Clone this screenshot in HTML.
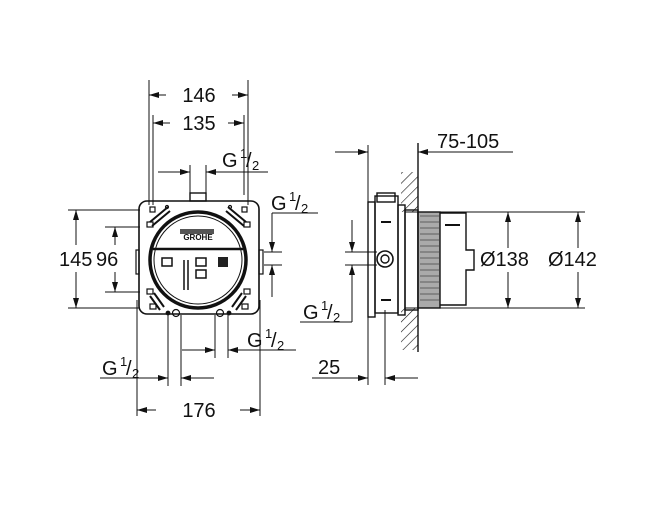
<!DOCTYPE html>
<html><head><meta charset="utf-8"><style>
html,body{margin:0;padding:0;background:#fff}
svg{display:block}
text{font-family:"Liberation Sans",sans-serif;fill:#111}
</style></head><body>
<svg width="666" height="515" viewBox="0 0 666 515" xmlns="http://www.w3.org/2000/svg">
<defs>
<marker id="a" viewBox="0 0 10 6" refX="10" refY="3" markerWidth="11" markerHeight="6" markerUnits="userSpaceOnUse" orient="auto"><path d="M0,0L10,3L0,6z" fill="#111"/></marker>
<pattern id="h" width="7" height="7" patternUnits="userSpaceOnUse" patternTransform="rotate(45)"><line x1="0" y1="0" x2="0" y2="7" stroke="#111" stroke-width="1.2"/></pattern>
</defs>
<g stroke="#111" stroke-width="1" fill="none">
<line x1="149" y1="80" x2="149" y2="205"/>
<line x1="153" y1="115" x2="153" y2="205"/>
<line x1="244" y1="115" x2="244" y2="195"/>
<line x1="248" y1="80" x2="248" y2="205"/>
<line x1="166" y1="95" x2="149" y2="95" marker-end="url(#a)"/>
<line x1="232" y1="95" x2="248" y2="95" marker-end="url(#a)"/>
<line x1="170" y1="123" x2="153" y2="123" marker-end="url(#a)"/>
<line x1="228" y1="123" x2="244" y2="123" marker-end="url(#a)"/>
<line x1="190" y1="165" x2="190" y2="195"/>
<line x1="206" y1="165" x2="206" y2="195"/>
<line x1="158" y1="172" x2="190" y2="172" marker-end="url(#a)"/>
<line x1="268" y1="172" x2="206" y2="172" marker-end="url(#a)"/>
<rect x="139" y="201" width="120" height="113" rx="8" stroke-width="1.6"/>
<rect x="190" y="193" width="16" height="8" stroke-width="1.4"/>
<rect x="136" y="250" width="3" height="24" stroke-width="1.2"/>
<rect x="259" y="250" width="4" height="24" stroke-width="1.2"/>
<circle cx="198" cy="260" r="48" stroke-width="3.5"/>
<circle cx="198" cy="260" r="44" stroke-width="1"/>
<path d="M153 249 L243 249" stroke-width="2.5"/>
<g stroke-width="2">
<path d="M150 222 L168 207 M152 226 L170 211"/>
<path d="M246 222 L228 207 M244 226 L226 211"/>
<path d="M150 296 L160 310 M154 293 L164 307"/>
<path d="M246 296 L236 310 M242 293 L232 307"/>
</g>
<g stroke-width="1.2">
<rect x="150" y="207" width="5" height="5"/><rect x="242" y="207" width="5" height="5"/>
<rect x="147" y="222" width="6" height="5"/><rect x="244" y="222" width="6" height="5"/>
<rect x="147" y="289" width="6" height="5"/><rect x="244" y="289" width="6" height="5"/>
<rect x="150" y="304" width="6" height="5"/><rect x="242" y="304" width="6" height="5"/>
<circle cx="176" cy="313" r="3.5"/><circle cx="220" cy="313" r="3.5"/>
<circle cx="168" cy="313" r="1.8" fill="#111"/><circle cx="229" cy="313" r="1.8" fill="#111"/>
<circle cx="167" cy="207" r="1.5"/><circle cx="230" cy="207" r="1.5"/>
</g>
<rect x="180" y="229" width="34" height="5" fill="#555" stroke="none"/>
<rect x="218" y="257" width="10" height="10" fill="#222" stroke="none"/>
<path d="M162 258h10v8h-10z M196 258h10v8h-10z M196 270h10v8h-10z M184 260v30 M188 260v30" stroke-width="1.5"/>
<line x1="68" y1="210" x2="140" y2="210"/>
<line x1="68" y1="308" x2="140" y2="308"/>
<line x1="105" y1="227" x2="140" y2="227"/>
<line x1="105" y1="292" x2="140" y2="292"/>
<line x1="76" y1="245" x2="76" y2="210" marker-end="url(#a)"/>
<line x1="76" y1="272" x2="76" y2="308" marker-end="url(#a)"/>
<line x1="115" y1="245" x2="115" y2="227" marker-end="url(#a)"/>
<line x1="115" y1="272" x2="115" y2="292" marker-end="url(#a)"/>
<line x1="264" y1="252" x2="282" y2="252"/>
<line x1="264" y1="265" x2="282" y2="265"/>
<line x1="272" y1="213" x2="318" y2="213"/>
<line x1="272" y1="213" x2="272" y2="252" marker-end="url(#a)"/>
<line x1="272" y1="297" x2="272" y2="265" marker-end="url(#a)"/>
<line x1="137" y1="300" x2="137" y2="416"/>
<line x1="260" y1="300" x2="260" y2="416"/>
<line x1="156" y1="410" x2="137" y2="410" marker-end="url(#a)"/>
<line x1="240" y1="410" x2="260" y2="410" marker-end="url(#a)"/>
<line x1="168" y1="315" x2="168" y2="386"/>
<line x1="181" y1="315" x2="181" y2="386"/>
<line x1="215" y1="315" x2="215" y2="358"/>
<line x1="228" y1="315" x2="228" y2="358"/>
<line x1="100" y1="378" x2="168" y2="378" marker-end="url(#a)"/>
<line x1="214" y1="378" x2="181" y2="378" marker-end="url(#a)"/>
<line x1="182" y1="350" x2="215" y2="350" marker-end="url(#a)"/>
<line x1="296" y1="350" x2="228" y2="350" marker-end="url(#a)"/>
<line x1="418" y1="143" x2="418" y2="352" stroke-width="1.4"/>
<rect x="401" y="172" width="17" height="40" fill="url(#h)" stroke="none"/>
<rect x="401" y="308" width="17" height="42" fill="url(#h)" stroke="none"/>
<line x1="368" y1="145" x2="368" y2="385"/>
<line x1="385" y1="310" x2="385" y2="385"/>
<line x1="335" y1="152" x2="368" y2="152" marker-end="url(#a)"/>
<line x1="513" y1="152" x2="418" y2="152" marker-end="url(#a)"/>
<line x1="312" y1="378" x2="368" y2="378" marker-end="url(#a)"/>
<line x1="418" y1="378" x2="385" y2="378" marker-end="url(#a)"/>
<rect x="418" y="212" width="22" height="96" fill="#aaa" stroke="none"/>
<g stroke-width="1.4">
<rect x="368" y="202" width="7" height="115"/>
<rect x="375" y="196" width="23" height="117"/>
<rect x="377" y="193" width="18" height="9"/>
<rect x="398" y="205" width="7" height="110"/>
<rect x="405" y="210" width="13" height="100"/>
<rect x="418" y="212" width="22" height="96"/>
<path d="M440 213 H466 V250 H474 V270 H466 V305 H440"/>
</g>
<g stroke-width="0.8" stroke="#444">
<path d="M420 216h19M420 222h19M420 228h19M420 234h19M420 240h19M420 246h19M420 252h19M420 258h19M420 264h19M420 270h19M420 276h19M420 282h19M420 288h19M420 294h19M420 300h19"/>
</g>
<path d="M381 222h10M381 300h10 M445 225h15" stroke-width="2"/>
<circle cx="385" cy="259" r="8" stroke-width="1.6"/>
<circle cx="385" cy="259" r="4" stroke-width="1.4"/>
<line x1="405" y1="212" x2="585" y2="212"/>
<line x1="405" y1="308" x2="585" y2="308"/>
<line x1="508" y1="248" x2="508" y2="212" marker-end="url(#a)"/>
<line x1="508" y1="272" x2="508" y2="308" marker-end="url(#a)"/>
<line x1="578" y1="248" x2="578" y2="212" marker-end="url(#a)"/>
<line x1="578" y1="272" x2="578" y2="308" marker-end="url(#a)"/>
<line x1="345" y1="252" x2="377" y2="252"/>
<line x1="345" y1="265" x2="377" y2="265"/>
<line x1="352" y1="220" x2="352" y2="252" marker-end="url(#a)"/>
<line x1="352" y1="322" x2="352" y2="265" marker-end="url(#a)"/>
<line x1="300" y1="322" x2="352" y2="322"/>
</g>
<g font-size="20">
<text x="199" y="102" text-anchor="middle">146</text>
<text x="199" y="130" text-anchor="middle">135</text>
<text x="222" y="167">G</text><text x="240" y="158" font-size="13">1</text><text x="246" y="167">/</text><text x="252" y="170" font-size="13">2</text>
<text x="271" y="210">G</text><text x="289" y="201" font-size="13">1</text><text x="295" y="210">/</text><text x="301" y="213" font-size="13">2</text>
<text x="59" y="266">145</text><text x="96" y="266">96</text>
<text x="102" y="375">G</text><text x="120" y="366" font-size="13">1</text><text x="126" y="375">/</text><text x="132" y="378" font-size="13">2</text>
<text x="247" y="347">G</text><text x="265" y="338" font-size="13">1</text><text x="271" y="347">/</text><text x="277" y="350" font-size="13">2</text>
<text x="199" y="417" text-anchor="middle">176</text>
<text x="437" y="148">75-105</text>
<text x="480" y="266">Ø138</text>
<text x="548" y="266">Ø142</text>
<text x="303" y="319">G</text><text x="321" y="310" font-size="13">1</text><text x="327" y="319">/</text><text x="333" y="322" font-size="13">2</text>
<text x="318" y="374">25</text>
</g>
<text x="198" y="240" font-size="8" font-weight="bold" text-anchor="middle">GROHE</text>
</svg>
</body></html>
